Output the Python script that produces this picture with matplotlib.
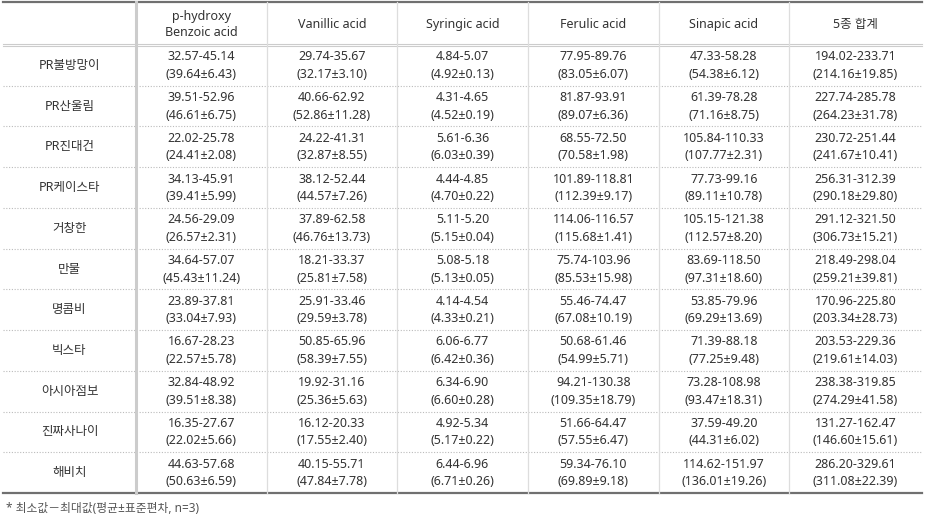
import matplotlib.pyplot as plt

# Latin text in Noto Sans (narrow ±), Hangul falls through to the CJK family
plt.rcParams['font.family'] = ['Noto Sans', 'Noto Sans CJK KR', 'DejaVu Sans']

# row labels and column headers
cultivars = ['PR불방망이', 'PR산울림', 'PR진대건', 'PR케이스타', '거창한', '만물',
             '명콤비', '빅스타', '아시아점보', '진짜사나이', '해비치']
headers = ['p-hydroxy\nBenzoic acid', 'Vanillic acid', 'Syringic acid',
           'Ferulic acid', 'Sinapic acid', '5종 합계']

# (min, max, mean, sd) per cultivar
p_hydroxy = [(32.57, 45.14, 39.64, 6.43), (39.51, 52.96, 46.61, 6.75),
             (22.02, 25.78, 24.41, 2.08), (34.13, 45.91, 39.41, 5.99),
             (24.56, 29.09, 26.57, 2.31), (34.64, 57.07, 45.43, 11.24),
             (23.89, 37.81, 33.04, 7.93), (16.67, 28.23, 22.57, 5.78),
             (32.84, 48.92, 39.51, 8.38), (16.35, 27.67, 22.02, 5.66),
             (44.63, 57.68, 50.63, 6.59)]
vanillic = [(29.74, 35.67, 32.17, 3.10), (40.66, 62.92, 52.86, 11.28),
            (24.22, 41.31, 32.87, 8.55), (38.12, 52.44, 44.57, 7.26),
            (37.89, 62.58, 46.76, 13.73), (18.21, 33.37, 25.81, 7.58),
            (25.91, 33.46, 29.59, 3.78), (50.85, 65.96, 58.39, 7.55),
            (19.92, 31.16, 25.36, 5.63), (16.12, 20.33, 17.55, 2.40),
            (40.15, 55.71, 47.84, 7.78)]
syringic = [(4.84, 5.07, 4.92, 0.13), (4.31, 4.65, 4.52, 0.19),
            (5.61, 6.36, 6.03, 0.39), (4.44, 4.85, 4.70, 0.22),
            (5.11, 5.20, 5.15, 0.04), (5.08, 5.18, 5.13, 0.05),
            (4.14, 4.54, 4.33, 0.21), (6.06, 6.77, 6.42, 0.36),
            (6.34, 6.90, 6.60, 0.28), (4.92, 5.34, 5.17, 0.22),
            (6.44, 6.96, 6.71, 0.26)]
ferulic = [(77.95, 89.76, 83.05, 6.07), (81.87, 93.91, 89.07, 6.36),
           (68.55, 72.50, 70.58, 1.98), (101.89, 118.81, 112.39, 9.17),
           (114.06, 116.57, 115.68, 1.41), (75.74, 103.96, 85.53, 15.98),
           (55.46, 74.47, 67.08, 10.19), (50.68, 61.46, 54.99, 5.71),
           (94.21, 130.38, 109.35, 18.79), (51.66, 64.47, 57.55, 6.47),
           (59.34, 76.10, 69.89, 9.18)]
sinapic = [(47.33, 58.28, 54.38, 6.12), (61.39, 78.28, 71.16, 8.75),
           (105.84, 110.33, 107.77, 2.31), (77.73, 99.16, 89.11, 10.78),
           (105.15, 121.38, 112.57, 8.20), (83.69, 118.50, 97.31, 18.60),
           (53.85, 79.96, 69.29, 13.69), (71.39, 88.18, 77.25, 9.48),
           (73.28, 108.98, 93.47, 18.31), (37.59, 49.20, 44.31, 6.02),
           (114.62, 151.97, 136.01, 19.26)]
total5 = [(194.02, 233.71, 214.16, 19.85), (227.74, 285.78, 264.23, 31.78),
          (230.72, 251.44, 241.67, 10.41), (256.31, 312.39, 290.18, 29.80),
          (291.12, 321.50, 306.73, 15.21), (218.49, 298.04, 259.21, 39.81),
          (170.96, 225.80, 203.34, 28.73), (203.53, 229.36, 219.61, 14.03),
          (238.38, 319.85, 274.29, 41.58), (131.27, 162.47, 146.60, 15.61),
          (286.20, 329.61, 311.08, 22.39)]
columns = [p_hydroxy, vanillic, syringic, ferulic, sinapic, total5]

footnote = '* 최소값－최대값(평균±표준편차, n=3)'

# layout in pixels
col_edges = [3, 136, 267, 397, 528, 659, 789, 922]
top = 2
head_bottom = 45
table_bottom = 493
row_h = (table_bottom - head_bottom) / len(cultivars)
text_color = '#333333'
fs = 9

fig = plt.figure(figsize=(9.29, 5.22), dpi=100)
ax = fig.add_axes([0, 0, 1, 1])
ax.set_xlim(0, 929)
ax.set_ylim(522, 0)
ax.axis('off')

# horizontal rules
ax.plot([col_edges[0], col_edges[-1]], [top, top], color='#707070', lw=1.6)
ax.plot([col_edges[0], col_edges[-1]], [table_bottom, table_bottom], color='#707070', lw=1.6)
ax.plot([col_edges[0], col_edges[-1]], [head_bottom - 1.2, head_bottom - 1.2], color='#cccccc', lw=0.8)
ax.plot([col_edges[0], col_edges[-1]], [head_bottom + 1.2, head_bottom + 1.2], color='#cccccc', lw=0.8)
for i in range(1, len(cultivars)):
    y = head_bottom + i * row_h
    ax.plot([col_edges[0], col_edges[-1]], [y, y], color='#bbbbbb', lw=0.8,
            linestyle=(0, (1, 1.5)))

# vertical rules
ax.plot([col_edges[1], col_edges[1]], [top, table_bottom], color='#cccccc', lw=2.2)
for x in col_edges[2:-1]:
    ax.plot([x, x], [top, table_bottom], color='#dddddd', lw=0.9)

# header
for j, h in enumerate(headers):
    cx = (col_edges[j + 1] + col_edges[j + 2]) / 2
    ax.text(cx, (top + head_bottom) / 2 + 1, h, ha='center', va='center',
            fontsize=fs, color=text_color, linespacing=1.25)

# body
for i, name in enumerate(cultivars):
    cy = head_bottom + (i + 0.5) * row_h
    ax.text((col_edges[0] + col_edges[1]) / 2, cy, name, ha='center', va='center',
            fontsize=fs, color=text_color)
    for j, col in enumerate(columns):
        lo, hi, mean, sd = col[i]
        cx = (col_edges[j + 1] + col_edges[j + 2]) / 2
        ax.text(cx, cy - 8.5, f'{lo:.2f}-{hi:.2f}', ha='center', va='center',
                fontsize=fs, color=text_color)
        ax.text(cx, cy + 9, f'({mean:.2f}±{sd:.2f})', ha='center', va='center',
                fontsize=fs, color=text_color)

ax.text(6, 508, footnote, ha='left', va='center', fontsize=8.5, color='#555555')

fig.savefig('out.png', dpi=100)
